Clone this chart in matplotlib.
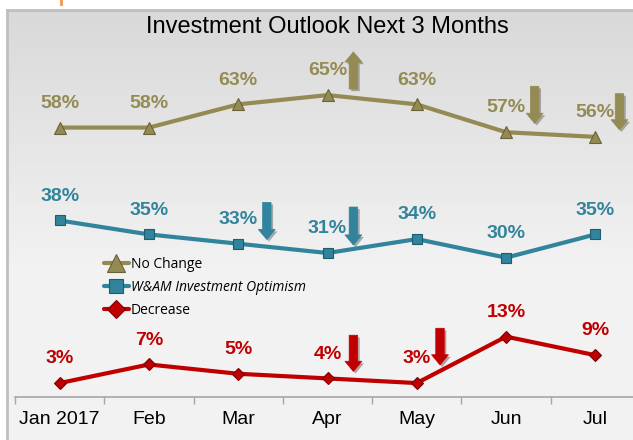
import numpy as np
import matplotlib
matplotlib.use("Agg")
import matplotlib.pyplot as plt
from matplotlib.patches import FancyArrow
import matplotlib.patheffects as pe

# data
months = ["Jan 2017", "Feb", "Mar", "Apr", "May", "Jun", "Jul"]
no_change = [58, 58, 63, 65, 63, 57, 56]
optimism = [38, 35, 33, 31, 34, 30, 35]
decrease = [3, 7, 5, 4, 3, 13, 9]

olive = "#948a54"
teal = "#31849b"
red = "#c00000"

# arrows: (series, month index, direction, x offset, gap above point, length)
arrows = [
    ("nc", 3, "up", 0.29, 1.3, 8.0),
    ("nc", 5, "down", 0.32, 1.9, 8.0),
    ("nc", 6, "down", 0.27, 1.5, 7.8),
    ("opt", 2, "down", 0.32, 0.9, 8.0),
    ("opt", 3, "down", 0.29, 1.7, 8.2),
    ("dec", 3, "down", 0.29, 1.5, 7.8),
    ("dec", 4, "down", 0.26, 3.9, 7.9),
]

W, H = 633, 440
fig = plt.figure(figsize=(W / 100, H / 100), dpi=100)
fig.patch.set_facecolor("white")

# background frame with vertical gradient
bg = fig.add_axes([7 / W, 0, 1, (H - 10) / H])
grad = np.linspace(0, 1, 256)
shade = np.clip(grad / 0.6, 0, 1)
top = np.array([0.85, 0.85, 0.85])
bot = np.array([0.95, 0.95, 0.95])
img = (top[None, :] * (1 - shade[:, None]) + bot[None, :] * shade[:, None])
bg.imshow(img[:, None, :], aspect="auto", extent=[0, 1, 0, 1])
bg.set_xlim(0, 1)
bg.set_ylim(0, 1)
bg.set_xticks([])
bg.set_yticks([])
for s in ["right", "bottom"]:
    bg.spines[s].set_visible(False)
for s in ["left", "top"]:
    bg.spines[s].set_color("#bfbfbf")
    bg.spines[s].set_linewidth(2)

# small orange fragment at the top edge
fig.add_artist(plt.Line2D([61 / W, 61 / W], [1, 1 - 4 / H], color="#f79646", lw=2))

# main axes: value 0 sits on the axis line at y=397 px
ymax = 80
ax = fig.add_axes([15 / W, (H - 397) / H, 625 / W, (ymax * 4.645) / H])
ax.patch.set_alpha(0)
ax.set_xlim(-0.5, 6.5)
ax.set_ylim(0, ymax)

x = np.arange(len(months))
series = {
    "nc": (no_change, olive, "^", 9, "#6b6235", "No Change"),
    "opt": (optimism, teal, "s", 7, "#1d5d6e", "W&AM Investment Optimism"),
    "dec": (decrease, red, "D", 6.5, "#7a0000", "Decrease"),
}
handles = []
for key in ["nc", "opt", "dec"]:
    vals, col, mk, ms, edge, lab = series[key]
    h, = ax.plot(x, vals, color=col, lw=3, marker=mk, ms=ms,
                 mfc=col, mec=edge, mew=0.8, label=lab, zorder=3,
                 solid_capstyle="round")
    handles.append(h)
    for xi, v in zip(x, vals):
        ax.annotate(f"{v}%", (xi, v), xytext=(0, 17.5), textcoords="offset points",
                    ha="center", va="center", fontsize=14, fontweight="bold",
                    color=col, family="Liberation Sans", zorder=4)

# block arrows
for key, i, d, dx, gap, length in arrows:
    vals, col, *_ = series[key]
    v = vals[i]
    if d == "up":
        y0, dy = v + gap, length
    else:
        y0, dy = v + gap + length, -length
    arr = FancyArrow(i + dx, y0, 0, dy, width=0.095, head_width=0.19,
                     head_length=2.2, length_includes_head=True,
                     facecolor=col, edgecolor=col, lw=0.5, zorder=5)
    arr.set_path_effects([pe.SimplePatchShadow(offset=(1.5, -1.5), alpha=0.35),
                          pe.Normal()])
    ax.add_patch(arr)

# axis styling
for s in ["left", "right", "top"]:
    ax.spines[s].set_visible(False)
ax.spines["bottom"].set_color("#a6a6a6")
ax.spines["bottom"].set_linewidth(1.2)
ax.set_yticks([])
ax.set_xticks(x)
ax.set_xticklabels(months, fontsize=14, family="Liberation Sans")
ax.tick_params(axis="x", which="major", length=0, pad=10)
ax.set_xticks(np.arange(-0.5, 7, 1), minor=True)
ax.tick_params(axis="x", which="minor", length=5, color="#a6a6a6", width=1)

fig.text(327 / W, 1 - 27 / H, "Investment Outlook Next 3 Months",
         ha="center", va="center", fontsize=17, family="Liberation Sans")

leg = fig.legend(handles=handles, loc="upper left",
                 bbox_to_anchor=(91 / W, 1 - 244 / H), frameon=False,
                 prop={"family": "Open Sans", "size": 10}, handlelength=1.8,
                 handletextpad=0.15, labelspacing=0.6, markerscale=1.45)
leg.get_texts()[1].set_fontstyle("italic")

fig.savefig("out.png", dpi=100)
